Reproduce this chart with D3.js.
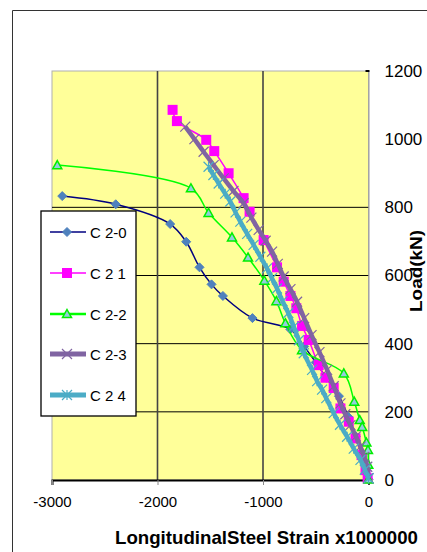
<!DOCTYPE html>
<html><head><meta charset="utf-8">
<script src="https://cdn.jsdelivr.net/npm/d3@7"></script>
<style>body{margin:0;background:#fff}svg{display:block}</style>
</head><body>
<script>
// ---- data ----
const seriesNames = ["C 2-0", "C 2 1", "C 2-2", "C 2-3", "C 2 4"];
const xTicks = [-3000, -2000, -1000, 0];
const yTicks = [0, 200, 400, 600, 800, 1000, 1200];
const yGrid = [200, 400, 600, 800];
const xGrid = [-2000, -1000];
const c20 = [[-2903,833],[-2396,809],[-1880,751],[-1728,699],[-1602,624],[-1488,574],[-1380,540],[-1100,475],[-741,442],[-610,392],[-500,345],[-400,300],[-280,246],[-190,185],[-120,128],[-60,70],[0,2]];
const c21 = [[-1857,1086],[-1816,1053],[-1538,998],[-1462,965],[-1326,900],[-1184,827],[-1127,787],[-994,704],[-867,624],[-804,582],[-740,540],[-684,504],[-630,452],[-567,411],[-472,337],[-408,300],[-330,270],[-266,210],[-187,171],[-123,122],[-66,73],[-28,29],[-8,5]];
const c22 = [[-2950,924],[-1683,856],[-1516,784],[-1294,712],[-1142,653],[-987,585],[-873,525],[-788,460],[-630,381],[-234,313],[-135,230],[-83,176],[-60,156],[-20,110],[-5,88],[-2,45],[-1,2]];
const c23 = [[-1737,1037],[-1650,1000],[-1563,963],[-1468,924],[-1373,885],[-1280,848],[-1184,812],[-1110,770],[-1041,734],[-975,702],[-914,670],[-860,634],[-804,597],[-740,560],[-677,523],[-610,475],[-540,425],[-465,375],[-392,323],[-330,275],[-266,225],[-220,193],[-171,161],[-120,128],[-76,98],[-40,68],[-12,39],[0,5]];
const c24 = [[-1516,919],[-1470,895],[-1420,870],[-1358,840],[-1310,817],[-1260,785],[-1215,758],[-1150,722],[-1089,690],[-1025,655],[-962,621],[-915,592],[-867,562],[-815,525],[-760,490],[-709,450],[-660,410],[-614,372],[-535,323],[-487,290],[-440,265],[-400,240],[-330,196],[-270,162],[-203,127],[-140,92],[-76,59],[-35,30],[0,5]];
const seriesData = [c20, c21, c22, c23, c24];

// ---- layout ----
const W = 427, H = 552;
const svg = d3.select("body").append("svg").attr("width", W).attr("height", H);
const x = d3.scaleLinear().domain([-3000, 0]).range([52, 368.5]);
const y = d3.scaleLinear().domain([0, 1200]).range([480, 71]);

// outer frame
svg.append("path").attr("d", "M12.5,552 L12.5,10.5 L427,10.5").attr("fill", "none").attr("stroke", "#333").attr("stroke-width", 1);

// plot area
svg.append("rect").attr("x", x(-3000)).attr("y", y(1200)).attr("width", x(0) - x(-3000)).attr("height", y(0) - y(1200))
  .attr("fill", "#FFFF99").attr("stroke", "#b0b0b0").attr("stroke-width", 1);

// gridlines
svg.append("g").selectAll("line").data(yGrid).join("line")
  .attr("x1", x(-3000)).attr("x2", x(0)).attr("y1", d => y(d)).attr("y2", d => y(d))
  .attr("stroke", "#000").attr("stroke-width", 1);
svg.append("g").selectAll("line").data(xGrid).join("line")
  .attr("x1", d => x(d)).attr("x2", d => x(d)).attr("y1", y(1200)).attr("y2", y(0))
  .attr("stroke", "#444").attr("stroke-width", 1.6);

// x axis
const xAxis = d3.axisBottom(x).tickValues(xTicks).tickSize(5).tickFormat(d3.format("d"));
const gx = svg.append("g").attr("transform", `translate(0,${y(0)})`).call(xAxis);
gx.select(".domain").attr("stroke", "#000").attr("stroke-width", 2);
gx.selectAll(".tick line").attr("stroke", "#888");
gx.selectAll("text").attr("font-family", "Liberation Sans, Arial, sans-serif").attr("font-size", 15)
  .attr("fill", "#000").attr("dy", null).attr("y", 27).text(d => d === 0 ? "0" : d3.format("d")(d).replace("−", "-"));

// y axis (right)
const yAxis = d3.axisRight(y).tickValues(yTicks).tickSize(0).tickPadding(16).tickFormat(d3.format("d"));
const gy = svg.append("g").attr("transform", `translate(${x(0)},0)`).call(yAxis);
gy.select(".domain").attr("stroke", "#999").attr("stroke-width", 1);
gy.selectAll("text").attr("font-family", "Liberation Sans, Arial, sans-serif").attr("font-size", 17).attr("fill", "#000");
svg.append("line").attr("x1", x(0) - 3).attr("x2", x(0) + 1).attr("y1", y(1200)).attr("y2", y(1200)).attr("stroke", "#000").attr("stroke-width", 2);

// axis titles
svg.append("text").attr("x", 115).attr("y", 544).attr("font-family", "Liberation Sans, Arial, sans-serif")
  .attr("font-weight", "bold").attr("font-size", 19).attr("textLength", 303).attr("lengthAdjust", "spacingAndGlyphs")
  .text("LongitudinalSteel Strain x1000000");
svg.append("text").attr("transform", "translate(422,271) rotate(-90)").attr("text-anchor", "middle")
  .attr("font-family", "Liberation Sans, Arial, sans-serif").attr("font-weight", "bold").attr("font-size", 16)
  .attr("textLength", 82).attr("lengthAdjust", "spacingAndGlyphs").text("Load(kN)");

// series styles
const styles = [
  {line: "#000080", lw: 1.5, marker: "diamond", fill: "#4F81BD", stroke: "#4F81BD", size: 9},
  {line: "#FF00FF", lw: 1.5, marker: "square", fill: "#FF00FF", stroke: "#FF00FF", size: 10},
  {line: "#00FF00", lw: 1.5, marker: "triangle", fill: "#93CDDD", stroke: "#00EE00", size: 9},
  {line: "#8064A2", lw: 4.5, marker: "x", fill: "none", stroke: "#8064A2", size: 10},
  {line: "#4BACC6", lw: 4.5, marker: "star", fill: "none", stroke: "#4BACC6", size: 10}
];

function drawMarker(g, type, s, st) {
  const h = s / 2;
  if (type === "diamond") {
    g.append("path").attr("d", `M0,${-h}L${h},0L0,${h}L${-h},0Z`).attr("fill", st.fill).attr("stroke", st.stroke);
  } else if (type === "square") {
    g.append("rect").attr("x", -h).attr("y", -h).attr("width", s).attr("height", s).attr("fill", st.fill);
  } else if (type === "triangle") {
    g.append("path").attr("d", `M0,${-h}L${h},${h * 0.8}L${-h},${h * 0.8}Z`).attr("fill", st.fill).attr("stroke", st.stroke).attr("stroke-width", 1.5);
  } else if (type === "x") {
    g.append("path").attr("d", `M${-h},${-h}L${h},${h}M${h},${-h}L${-h},${h}`).attr("stroke", st.stroke).attr("stroke-width", 1.2);
  } else {
    g.append("path").attr("d", `M${-h},${-h}L${h},${h}M${h},${-h}L${-h},${h}M0,${-h}L0,${h}`).attr("stroke", st.stroke).attr("stroke-width", 1.2);
  }
}

const line = d3.line().x(d => x(d[0])).y(d => y(d[1])).curve(d3.curveCatmullRom.alpha(0.5));
seriesData.forEach((data, i) => {
  const st = styles[i];
  const g = svg.append("g");
  g.append("path").datum(data).attr("d", line).attr("fill", "none").attr("stroke", st.line).attr("stroke-width", st.lw)
    .attr("stroke-linejoin", "round");
  data.forEach(d => {
    const m = g.append("g").attr("transform", `translate(${x(d[0])},${y(d[1])})`);
    drawMarker(m, st.marker, st.size, st);
  });
});

// legend
const lg = svg.append("g");
lg.append("rect").attr("x", 41).attr("y", 211).attr("width", 95).attr("height", 205).attr("fill", "#fff").attr("stroke", "#000").attr("stroke-width", 1.3);
const legY = [232, 273, 314, 354, 395];
seriesNames.forEach((n, i) => {
  const st = styles[i];
  lg.append("line").attr("x1", 50).attr("x2", 86).attr("y1", legY[i]).attr("y2", legY[i]).attr("stroke", st.line).attr("stroke-width", i >= 3 ? 5 : (i === 2 ? 2.5 : 1.5));
  const m = lg.append("g").attr("transform", `translate(67,${legY[i]})`);
  drawMarker(m, st.marker, st.size, st);
  lg.append("text").attr("x", 90).attr("y", legY[i] + 5.5).attr("font-family", "Liberation Sans, Arial, sans-serif")
    .attr("font-size", 15).attr("fill", "#000").text(n);
});
</script>
</body></html>
